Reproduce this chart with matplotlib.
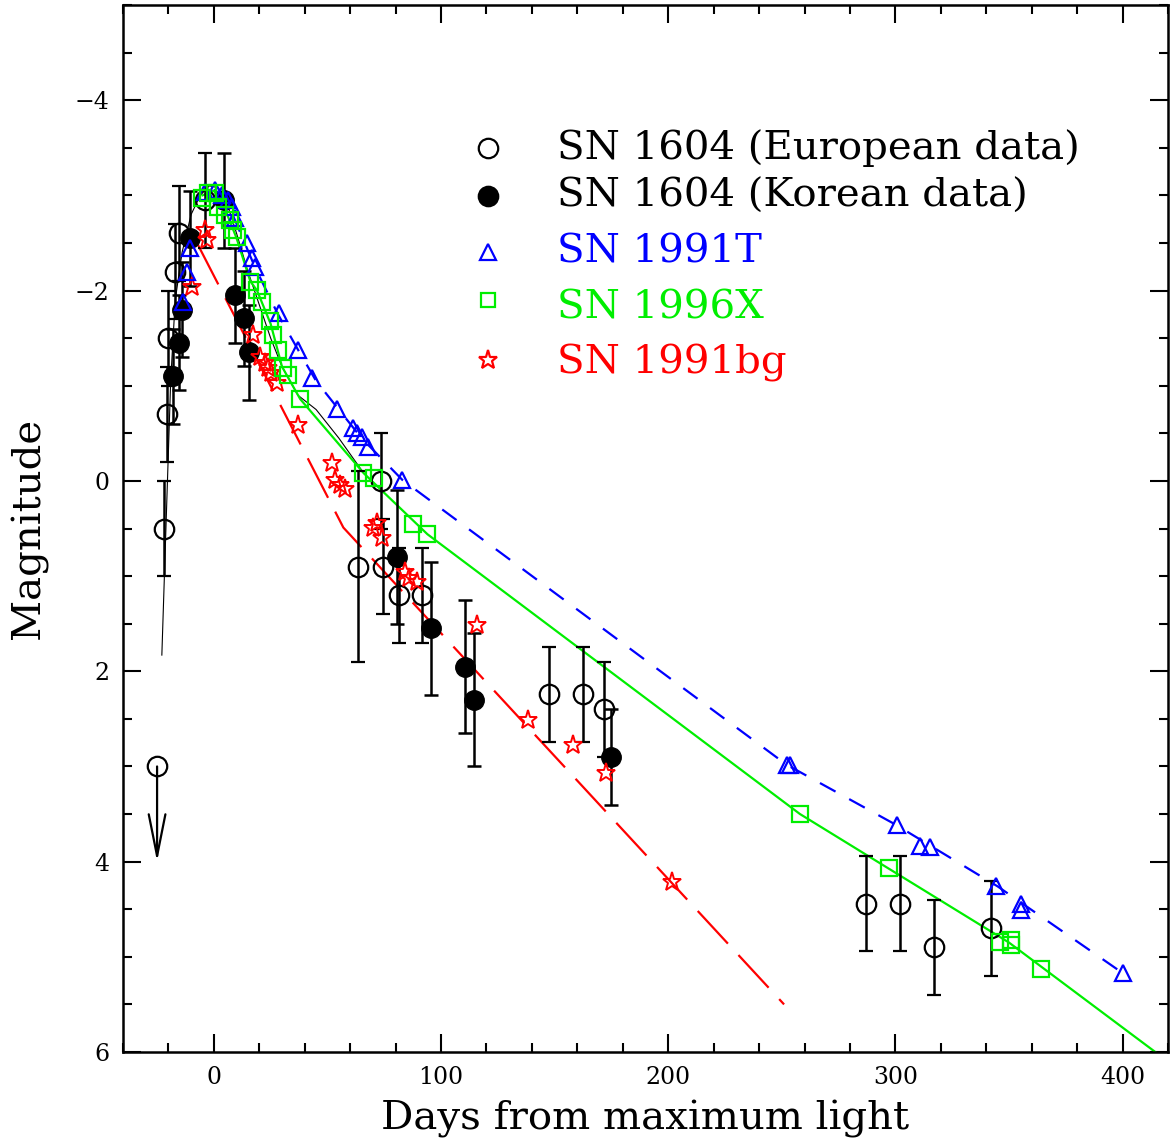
import numpy as np
import matplotlib
matplotlib.use("Agg")
import matplotlib.pyplot as plt
from matplotlib.ticker import MultipleLocator

plt.rcParams['font.family'] = ['DejaVu Serif']

# SN 1604, European data (open circles)
eur_day = [-22, -20.7, -20.3, -17, -15.4, -4, 63.4, 73.5, 74.4, 81.5, 91.6,
           147.6, 162.6, 171.8, 287, 302, 317, 342]
eur_mag = [0.5, -0.7, -1.5, -2.2, -2.6, -2.95, 0.9, 0.0, 0.9, 1.2, 1.2,
           2.24, 2.24, 2.4, 4.44, 4.44, 4.9, 4.7]
eur_err = [0.5, 0.5, 0.5, 0.5, 0.5, 0.5, 1.0, 0.5, 0.5, 0.5, 0.5,
           0.5, 0.5, 0.5, 0.5, 0.5, 0.5, 0.5]
# upper limit
lim_day = -25
lim_mag = 3.0

# SN 1604, Korean data (filled circles)
kor_day = [-18, -15.4, -14, -10.6, 4.4, 9.3, 13.2, 15.4, 80.6, 95.6, 110.6, 114.5, 174.9]
kor_mag = [-1.1, -1.45, -1.8, -2.55, -2.95, -1.95, -1.71, -1.35, 0.8, 1.55, 1.95, 2.3, 2.9]
kor_err = [0.5, 0.5, 0.5, 0.5, 0.5, 0.5, 0.5, 0.5, 0.7, 0.7, 0.7, 0.7, 0.5]

# SN 1991T
t_day = [-13.7, -11.9, -10.6, -4.0, 0.4, 3.5, 6.2, 7.9, 9.3, 14.5, 16.7, 18.1,
         28.6, 37.0, 43.2, 54.2, 61.2, 63.0, 65.2, 67.8, 82.8,
         252.4, 253.7, 300.9, 311.0, 315.4, 344.1, 355.1, 355.1, 400.0]
t_mag = [-1.88, -2.20, -2.45, -3.04, -3.06, -3.0, -2.95, -2.88, -2.76, -2.5, -2.34, -2.25,
         -1.76, -1.38, -1.08, -0.76, -0.56, -0.50, -0.46, -0.36, -0.01,
         2.98, 2.98, 3.61, 3.84, 3.85, 4.26, 4.45, 4.51, 5.17]
t_line_day = [0, 5, 10, 18, 28, 37, 45, 55, 65, 83, 252, 300, 345, 400]
t_line_mag = [-3.06, -2.98, -2.7, -2.25, -1.76, -1.38, -1.05, -0.75, -0.45, -0.01,
              2.98, 3.61, 4.26, 5.17]

# SN 1996X
x_day = [-5.3, -2.6, 0.4, 1.8, 4.8, 7.0, 8.4, 10.1, 15.9, 18.9, 21.1, 24.7, 26.0,
         28.2, 30.4, 32.6, 37.9, 65.6, 70.5, 87.7, 93.8, 258, 297, 346, 351, 351, 364]
x_mag = [-2.97, -3.03, -3.03, -2.88, -2.79, -2.74, -2.64, -2.56, -2.09, -2.01, -1.88,
         -1.68, -1.53, -1.38, -1.19, -1.11, -0.86, -0.08, -0.03, 0.45, 0.56, 3.50,
         4.07, 4.84, 4.82, 4.88, 5.13]
x_line_day = [-5, 0, 5, 10, 16, 19, 25, 30, 38, 66, 94, 258, 350, 420]
x_line_mag = [-3.0, -3.05, -2.85, -2.55, -2.1, -2.0, -1.65, -1.2, -0.86, -0.08, 0.56,
              3.5, 4.85, 6.1]

# SN 1991bg
bg_day = [-9.7, -4.0, -3.1, 17.2, 20.3, 22.5, 23.8, 25.1, 27.8, 37.0, 52.0, 53.3,
          55.5, 57.7, 70.0, 71.8, 74.0, 84.1, 85.9, 89.4, 115.9, 138.3, 158.1,
          172.7, 201.8]
bg_mag = [-2.04, -2.64, -2.53, -1.53, -1.30, -1.24, -1.19, -1.13, -1.03, -0.59, -0.19,
          -0.01, 0.04, 0.09, 0.49, 0.44, 0.60, 0.96, 1.02, 1.06, 1.51, 2.51, 2.77,
          3.07, 4.21]
bg_line_day = [-7, 57, 251]
bg_line_mag = [-2.48, 0.49, 5.5]

# template curve (thin black)
tmp_day = [-22.9, -19, -17, -14, -10, -6, -2, 2, 6, 10, 15, 20, 25, 30, 37, 45, 55, 66]
tmp_mag = [1.83, -1.06, -1.9, -2.4, -2.8, -3.0, -3.1, -3.08, -2.9, -2.6, -2.2, -1.85,
           -1.5, -1.2, -0.9, -0.75, -0.45, -0.08]

blue = '#0000ff'
green = '#00ee00'
red = '#ff0000'

fig = plt.figure(figsize=(11.7, 11.47), dpi=100)
ax = fig.add_axes([123/1170, 1 - 1052/1147, 1045/1170, 1047/1147])

ax.plot(tmp_day, tmp_mag, color='black', lw=0.8, zorder=2)
ax.plot(bg_line_day, bg_line_mag, color=red, lw=1.6, dashes=(20, 7), zorder=2)
ax.plot(t_line_day, t_line_mag, color=blue, lw=1.6, dashes=(8, 7), zorder=2)
ax.plot(x_line_day, x_line_mag, color=green, lw=1.6, zorder=2)

# SN 1604 points sit underneath the comparison supernovae
ax.errorbar(eur_day, eur_mag, yerr=eur_err, fmt='o', ms=14, mfc='none', mec='black',
            mew=1.6, ecolor='black', elinewidth=1.8, capsize=5, capthick=1.8, zorder=2.5)
ax.errorbar(kor_day, kor_mag, yerr=kor_err, fmt='o', ms=14, mfc='black', mec='black',
            ecolor='black', elinewidth=1.8, capsize=5, capthick=1.8, zorder=2.5)
ax.plot([lim_day], [lim_mag], ls='none', marker='o', ms=14, mfc='none', mec='black',
        mew=1.6, zorder=2.5)
ax.annotate('', xy=(lim_day, lim_mag + 1.0), xytext=(lim_day, lim_mag),
            arrowprops=dict(arrowstyle='->, head_length=1.5, head_width=0.3',
                            color='black', lw=1.6, mutation_scale=20,
                            shrinkA=0, shrinkB=0))

ax.plot(bg_day, bg_mag, ls='none', marker='*', ms=14, mfc='none', mec=red, mew=1.4, zorder=3)
ax.plot(t_day, t_mag, ls='none', marker='^', ms=12, mfc='none', mec=blue, mew=1.6, zorder=3)
ax.plot(x_day, x_mag, ls='none', marker='s', ms=11, mfc='none', mec=green, mew=1.6, zorder=4)

# legend drawn by hand
leg_x = 0.349
txt_x = 0.415
rows = [
    ('o', 'none', 'black', 14, 'SN 1604 (European data)', 0.8634, 0.8529),
    ('o', 'black', 'black', 14, 'SN 1604 (Korean data)', 0.8176, 0.8071),
    ('^', 'none', blue, 12, 'SN 1991T', 0.7641, 0.7545),
    ('s', 'none', green, 10, 'SN 1996X', 0.7182, 0.7010),
    ('*', 'none', red, 14, 'SN 1991bg', 0.6609, 0.6485),
]
for m, fc, ec, ms, label, ym, yt in rows:
    ax.plot([leg_x], [ym], transform=ax.transAxes, marker=m, ms=ms, mfc=fc, mec=ec,
            mew=1.6, ls='none', clip_on=False)
    ax.text(txt_x, yt, label, transform=ax.transAxes, color=ec, fontsize=29,
            va='baseline', ha='left')

ax.set_xlim(-40, 420)
ax.set_ylim(6, -5)
ax.xaxis.set_major_locator(MultipleLocator(100))
ax.xaxis.set_minor_locator(MultipleLocator(20))
ax.yaxis.set_major_locator(MultipleLocator(2))
ax.yaxis.set_minor_locator(MultipleLocator(0.5))
ax.tick_params(which='both', direction='in', top=True, right=True, width=1.5,
               labelsize=17)
ax.tick_params(which='major', length=13, pad=10)
ax.tick_params(which='minor', length=6.5)
for s in ax.spines.values():
    s.set_linewidth(1.8)

ax.set_xlabel('Days from maximum light', fontsize=29, labelpad=8)
ax.set_ylabel('Magnitude', fontsize=29, labelpad=19)

fig.savefig('out.png', dpi=100)
